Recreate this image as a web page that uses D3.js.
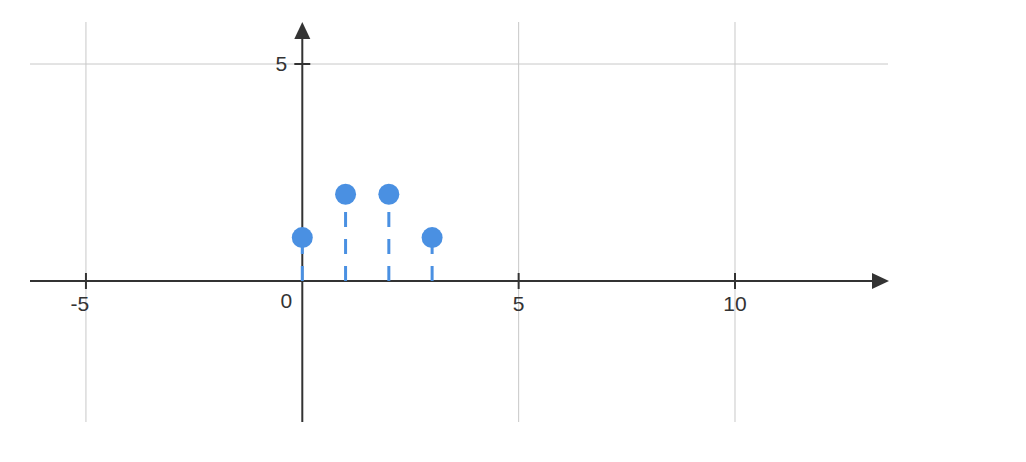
<!DOCTYPE html>
<html>
<head>
<meta charset="utf-8">
<script src="https://cdn.jsdelivr.net/npm/d3@7"></script>
<style>
  body { margin: 0; background: #fff; }
</style>
</head>
<body>
<script>
var xValues = [0, 1, 2, 3];
var yValues = [1, 2, 2, 1];
var xTicks = [-5, 5, 10];
var yTicks = [5];
var xGrid = [-5, 5, 10];
var yGrid = [5];

var width = 1026, height = 462;
var font = "'Liberation Sans', Arial, sans-serif";

var x = d3.scaleLinear().domain([-6.293, 13.536]).range([30, 888]);
var y = d3.scaleLinear().domain([-3.249, 5.968]).range([422, 22]);

var svg = d3.select("body").append("svg")
  .attr("width", width)
  .attr("height", height);

// grid
svg.selectAll(".vgrid").data(xGrid).enter().append("line")
  .attr("x1", d => x(d)).attr("x2", d => x(d))
  .attr("y1", y.range()[1]).attr("y2", y.range()[0])
  .attr("stroke", "#c8c8c8").attr("stroke-width", 1);

svg.selectAll(".hgrid").data(yGrid).enter().append("line")
  .attr("x1", x.range()[0]).attr("x2", x.range()[1])
  .attr("y1", d => y(d)).attr("y2", d => y(d))
  .attr("stroke", "#c8c8c8").attr("stroke-width", 1);

// axes
svg.append("line")
  .attr("x1", x.range()[0]).attr("x2", x.range()[1] - 10)
  .attr("y1", y(0)).attr("y2", y(0))
  .attr("stroke", "#333").attr("stroke-width", 2);

svg.append("line")
  .attr("x1", x(0)).attr("x2", x(0))
  .attr("y1", y.range()[0]).attr("y2", y.range()[1] + 10)
  .attr("stroke", "#333").attr("stroke-width", 2);

// arrow heads
var xe = x.range()[1] + 1, y0 = y(0);
svg.append("path")
  .attr("d", "M" + xe + "," + y0 + "L" + (xe - 17) + "," + (y0 - 8) + "L" + (xe - 17) + "," + (y0 + 8) + "Z")
  .attr("fill", "#333");

var ye = y.range()[1], x0 = x(0);
svg.append("path")
  .attr("d", "M" + x0 + "," + ye + "L" + (x0 - 8) + "," + (ye + 17) + "L" + (x0 + 8) + "," + (ye + 17) + "Z")
  .attr("fill", "#333");

// ticks
svg.selectAll(".xtick").data(xTicks).enter().append("line")
  .attr("x1", d => x(d)).attr("x2", d => x(d))
  .attr("y1", y0 - 8).attr("y2", y0 + 8)
  .attr("stroke", "#333").attr("stroke-width", 2);

svg.selectAll(".xlabel").data(xTicks).enter().append("text")
  .attr("x", d => x(d)).attr("y", y0 + 30)
  .attr("dx", d => d < 0 ? -6 : 0)
  .attr("text-anchor", "middle")
  .attr("font-family", font).attr("font-size", 21).attr("fill", "#333")
  .text(d => d);

svg.selectAll(".ytick").data(yTicks).enter().append("line")
  .attr("x1", x0 - 8).attr("x2", x0 + 8)
  .attr("y1", d => y(d)).attr("y2", d => y(d))
  .attr("stroke", "#333").attr("stroke-width", 2);

svg.selectAll(".ylabel").data(yTicks).enter().append("text")
  .attr("x", x0 - 15).attr("y", d => y(d) + 7)
  .attr("text-anchor", "end")
  .attr("font-family", font).attr("font-size", 21).attr("fill", "#333")
  .text(d => d);

svg.append("text")
  .attr("x", x0 - 10).attr("y", y0 + 27)
  .attr("text-anchor", "end")
  .attr("font-family", font).attr("font-size", 21).attr("fill", "#333")
  .text("0");

// stems
var pts = xValues.map((d, i) => ({ x: d, y: yValues[i] }));

svg.selectAll(".stem").data(pts).enter().append("line")
  .attr("x1", d => x(d.x)).attr("x2", d => x(d.x))
  .attr("y1", y0).attr("y2", d => y(d.y))
  .attr("stroke", "#4a90e2").attr("stroke-width", 3)
  .attr("stroke-dasharray", "15,12");

svg.selectAll(".pt").data(pts).enter().append("circle")
  .attr("cx", d => x(d.x)).attr("cy", d => y(d.y))
  .attr("r", 10.5)
  .attr("fill", "#4a90e2");
</script>
</body>
</html>
